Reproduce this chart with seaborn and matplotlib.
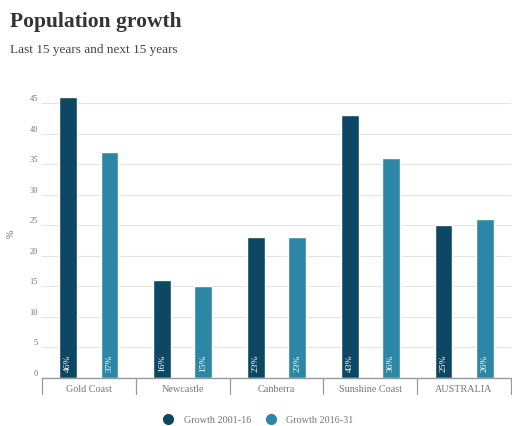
import matplotlib
matplotlib.use("Agg")
import matplotlib.pyplot as plt
import seaborn as sns
import pandas as pd
from matplotlib.lines import Line2D

categories = ["Gold Coast", "Newcastle", "Canberra", "Sunshine Coast", "AUSTRALIA"]
growth_2001_16 = [46, 16, 23, 43, 25]
growth_2016_31 = [37, 15, 23, 36, 26]
series_names = ["Growth 2001-16", "Growth 2016-31"]
yticks = [0, 5, 10, 15, 20, 25, 30, 35, 40, 45]

colors = ["#0c4863", "#2b87a5"]

df = pd.DataFrame({
    "city": categories * 2,
    "value": growth_2001_16 + growth_2016_31,
    "series": [series_names[0]] * len(categories) + [series_names[1]] * len(categories),
})

sns.set_theme(style="white")
plt.rcParams["font.family"] = ["Liberation Serif", "DejaVu Serif"]

fig = plt.figure(figsize=(5.12, 4.26), dpi=100)
ax = fig.add_axes([0.082, 0.113, 0.916, 0.674])

sns.barplot(data=df, x="city", y="value", hue="series", palette=colors,
            width=0.88, gap=0.57, ax=ax, legend=False, saturation=1)

ax.set_ylim(0, 47)
ax.set_xlim(-0.5, len(categories) - 0.5)
ax.set_yticks(yticks)
ax.set_yticklabels([str(t) for t in yticks], fontsize=6, color="#777777")
for t in ax.get_yticklabels():
    t.set_verticalalignment("bottom")
ax.tick_params(axis="y", length=0, pad=3)
ax.grid(axis="y", color="#e3e3e3", linewidth=0.8)
ax.set_axisbelow(True)

ax.set_xticks(range(len(categories)))
ax.set_xticklabels(categories, fontsize=7.3, color="#777777")
ax.tick_params(axis="x", length=0, pad=5)
for i in range(len(categories) + 1):
    ax.plot([i - 0.5, i - 0.5], [0, -2.7], color="#999999", lw=0.9, clip_on=False)

for s in ["top", "right", "left"]:
    ax.spines[s].set_visible(False)
ax.spines["bottom"].set_color("#999999")
ax.spines["bottom"].set_linewidth(1.0)

ax.set_xlabel("")
ax.set_ylabel("%", fontsize=7, color="#666666", labelpad=10)

for container in ax.containers:
    for bar in container:
        h = bar.get_height()
        ax.text(bar.get_x() + bar.get_width() / 2, 0.9, f"{int(h)}%",
                rotation=90, ha="center", va="bottom", color="white", fontsize=6.8)

fig.text(0.02, 0.948, "Population growth", fontsize=15.5, fontweight="bold",
         color="#333333", va="center")
fig.text(0.02, 0.882, "Last 15 years and next 15 years", fontsize=9.5,
         color="#444444", va="center")

handles = [Line2D([0], [0], marker="o", linestyle="", markersize=7,
                  markerfacecolor=c, markeredgecolor=c) for c in colors]
fig.legend(handles, series_names, loc="center", bbox_to_anchor=(0.5, 0.013),
           ncol=2, frameon=False, fontsize=7.3, handletextpad=0.5,
           columnspacing=1.0, labelcolor="#777777")

fig.savefig("out.png", dpi=100)
